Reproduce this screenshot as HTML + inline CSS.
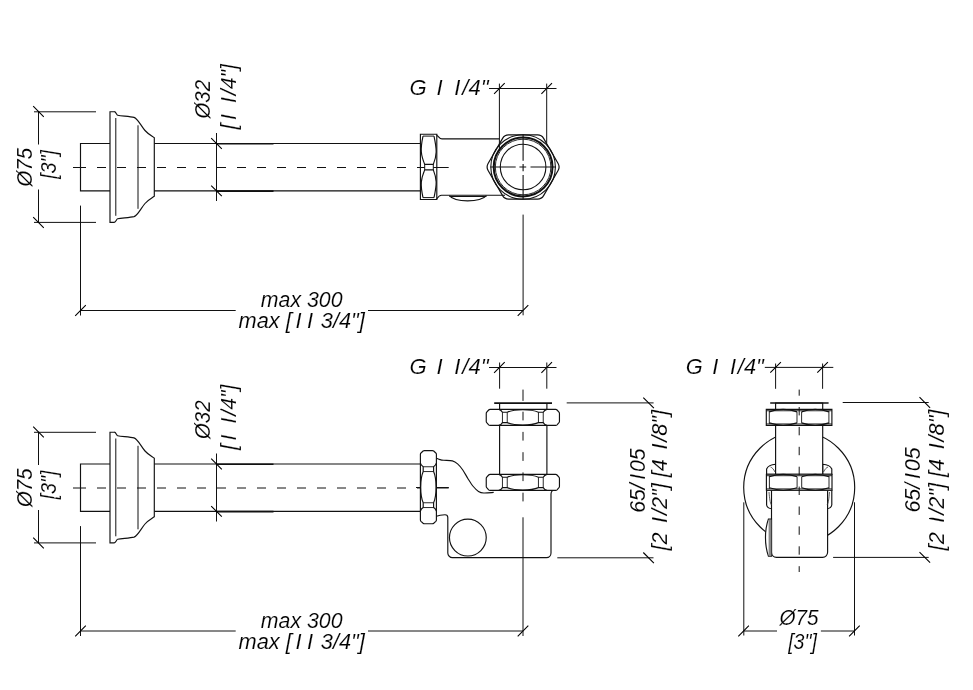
<!DOCTYPE html>
<html><head><meta charset="utf-8">
<style>
html,body{margin:0;padding:0;background:#fff;}
svg{display:block;will-change:transform;}
text{font-family:"Liberation Sans",sans-serif;font-style:italic;fill:#000;font-size:21.5px;stroke:#fff;stroke-width:0.12px;paint-order:fill stroke;}
</style></head>
<body>
<svg width="973" height="690" viewBox="0 0 973 690">
<rect width="973" height="690" fill="#fff"/>
<defs>
<g id="nutside" fill="#fff" stroke="#111" stroke-width="1.15">
<path d="M-32.8,-8H32.8Q33.6,-8 34.2,-7.4L36.1,-5.3Q36.6,-4.7 36.6,-4V4Q36.6,4.7 36.1,5.3L34.2,7.4Q33.6,8 32.8,8H-32.8Q-33.6,8 -34.2,7.4L-36.1,5.3Q-36.6,4.7 -36.6,4V-4Q-36.6,-4.7 -36.1,-5.3L-34.2,-7.4Q-33.6,-8 -32.8,-8Z"/>
<path fill="none" stroke-width="0.9" d="M-20.4,-5.2V5.2M-15.6,-5.2V5.2M15.6,-5.2V5.2M20.4,-5.2V5.2"/>
<path fill="none" d="M-24,-8C-22,-7.5 -21,-6.2 -20.4,-5.2H-15.6C-8,-8.5 8,-8.5 15.6,-5.2H20.4C21,-6.2 22,-7.5 24,-8"/>
<path fill="none" d="M-24,8C-22,7.5 -21,6.2 -20.4,5.2H-15.6C-8,8.5 8,8.5 15.6,5.2H20.4C21,6.2 22,7.5 24,8"/>
</g>
<g id="nutfront" fill="#fff" stroke="#111" stroke-width="1.15">
<path d="M-32.8,-8H32.8V8H-32.8Z"/>
<path fill="none" stroke-width="0.9" d="M-29.8,-6.5V6.5M29.8,-6.5V6.5M-2.1,-5.5V5.5M2.5,-5.5V5.5M-32.8,-6.6H32.8M-32.8,6.6H32.8"/>
<path fill="none" d="M-29.8,-5.5C-20,-9 -12,-9 -2.1,-5.5M2.5,-5.5C12,-9 20,-9 29.8,-5.5M-29.8,5.5C-20,9 -12,9 -2.1,5.5M2.5,5.5C12,9 20,9 29.8,5.5"/>
</g>
<g id="leftpart">
<path d="M34,111.8H96M34,222.4H96" stroke="#111" stroke-width="1" fill="none" />
<path d="M38.5,111.5V144.5M38.5,189.5V222.5" stroke="#111" stroke-width="1" fill="none" />
<path d="M33.2,106.2L43.8,116.8M33.2,217.2L43.8,227.8" stroke="#000" stroke-width="1.1" fill="none" />
<text transform="translate(32.3,186.5) rotate(-90)" textLength="38.5" lengthAdjust="spacingAndGlyphs">Ø75</text>
<text transform="translate(56,179) rotate(-90)" textLength="29" lengthAdjust="spacingAndGlyphs">[3&quot;]</text>
<path d="M110,111.7H114.2C116,111.5 116.5,115 117.6,115.2C122,116 130,116.4 134,117.4C138,118.8 141,126 145,130.5C148,134 152,136 154.3,137.7V196.3C152,198 148,200 145,203.5C141,208 138,215.2 134,216.6C130,217.6 122,218 117.6,218.8C116.5,219 116,222.4 114.2,222.4H110Z" stroke="#111" stroke-width="1.15" fill="none" />
<path d="M115.8,118V215.8M138,125.3V208.8" stroke="#111" stroke-width="1" fill="none" />
<path d="M110,143.5H80.5V190.9H110" stroke="#111" stroke-width="1.15" fill="none" />
<path d="M154.3,143.5H420.4M154.3,190.9H420.4" stroke="#111" stroke-width="1.15" fill="none" />
<path d="M73,167.5H86M97.0,167.5H106.0M117.0,167.5H126.0M137.0,167.5H146.0M157.0,167.5H166.0M177.0,167.5H186.0M197.0,167.5H206.0M217.0,167.5H226.0M237.0,167.5H246.0M257.0,167.5H266.0M277.0,167.5H286.0M297.0,167.5H306.0M317.0,167.5H326.0M337.0,167.5H346.0M357.0,167.5H366.0M377.0,167.5H386.0M397.0,167.5H406.0M417.0,167.5H424.7M433.3,167.5H448.7" stroke="#111" stroke-width="1" fill="none" />
<path d="M216.5,133V201" stroke="#111" stroke-width="1" fill="none" />
<path d="M216.5,143.8H273.5M216.5,191.1H273.5" stroke="#111" stroke-width="1.6" fill="none" />
<path d="M211.2,138.2L221.8,148.8M211.2,185.6L221.8,196.2" stroke="#000" stroke-width="1.1" fill="none" />
<text transform="translate(209.8,118.5) rotate(-90)" textLength="38.5" lengthAdjust="spacingAndGlyphs">Ø32</text>
<text transform="translate(235.5,129.5) rotate(-90)" textLength="65.5" lengthAdjust="spacingAndGlyphs">[ I   I /4&quot;]</text>
<path d="M80.5,205.6V315.5" stroke="#111" stroke-width="1" fill="none" />
<path d="M80.5,310.5H235.7M368,310.5H523" stroke="#111" stroke-width="1" fill="none" />
<path d="M75.2,315.8L85.8,305.2M517.7,315.8L528.3,305.2" stroke="#000" stroke-width="1.1" fill="none" />
<text x="260.8" y="307.4" textLength="81.7" lengthAdjust="spacingAndGlyphs">max 300</text>
<text x="238.5" y="328.2" textLength="126.4" lengthAdjust="spacingAndGlyphs">max [ I  I  3/4&quot;]</text>
</g>
<g id="gdim">
<path d="M489,88.5H556.5" stroke="#111" stroke-width="1" fill="none" />
<path d="M494.1,93.8L504.7,83.2M541.4,93.8L552.0,83.2" stroke="#000" stroke-width="1.1" fill="none" />
<text x="409.5" y="95.2" textLength="79" lengthAdjust="spacingAndGlyphs">G  I   I /4&quot;</text>
</g>
</defs>
<use href="#leftpart"/>
<use href="#leftpart" transform="translate(0,320.5)"/>
<path d="M420.4,134.2H436.8V199.5H420.4Z" stroke="#111" stroke-width="1.15" fill="none" />
<path d="M423,136.1H434M423,197.6H434M424.7,164.4V169.9M433.3,164.4V169.9" stroke="#111" stroke-width="1" fill="none" />
<path d="M423,136.1C420,150 421,155 424.7,164.4H433.3C437,155 437,150 434,136.1" stroke="#111" stroke-width="1.15" fill="none" />
<path d="M423,197.6C420,184 421,179 424.7,169.9H433.3C437,179 437,184 434,197.6" stroke="#111" stroke-width="1.15" fill="none" />
<path d="M436.8,135C438.5,137 439.5,138.8 442,138.8H499.4" stroke="#111" stroke-width="1.15" fill="none" />
<path d="M436.8,199C438,197 439,195.2 441.5,195.2H505" stroke="#111" stroke-width="1.15" fill="none" />
<path d="M449.3,196.5H486.5M449.3,195.6C455,202.6 480,202.6 486.5,195.6" stroke="#111" stroke-width="1.15" fill="none" />
<path d="M558.10,163.54Q560.10,167.00 558.10,170.46L543.60,195.58Q541.60,199.04 537.60,199.04L508.60,199.04Q504.60,199.04 502.60,195.58L488.10,170.46Q486.10,167.00 488.10,163.54L502.60,138.42Q504.60,134.96 508.60,134.96L537.60,134.96Q541.60,134.96 543.60,138.42Z" stroke="#111" stroke-width="1.2" fill="none" />
<circle cx="523.1" cy="167" r="32.3" stroke="#111" stroke-width="1.1" fill="none"/>
<circle cx="523.1" cy="167" r="29.4" stroke="#111" stroke-width="2" fill="none"/>
<circle cx="523.1" cy="167" r="27.8" stroke="#111" stroke-width="0.9" fill="none"/>
<circle cx="523.1" cy="167" r="22.8" stroke="#111" stroke-width="1.1" fill="none"/>
<path d="M490.5,167H515.7M519.4,167H526.2M530.5,167H555.7M523.1,134.8V160.7M523.1,164V171.2M523.1,174.9V199" stroke="#111" stroke-width="1.1" fill="none" />
<use href="#gdim"/>
<path d="M499.4,83.6V151M546.7,83.6V143" stroke="#111" stroke-width="1" fill="none" />
<path d="M523.1,214.6V315.3" stroke="#111" stroke-width="1" fill="none" />
<use href="#gdim" transform="translate(0,279)"/>
<path d="M499.6,362.5V388.7M546.8,362.5V388.7" stroke="#111" stroke-width="1" fill="none" />
<path d="M494.2,403.1H552" stroke="#111" stroke-width="1.7" fill="none" />
<path d="M499.6,403V474.4M546.9,403V474.4" stroke="#111" stroke-width="1.15" fill="none" />
<path d="M436.50,458.20C437.08,458.43 438.80,459.25 440.00,459.60C441.20,459.95 441.63,460.08 443.70,460.30C445.77,460.52 450.08,460.30 452.40,460.90C454.72,461.50 455.87,462.38 457.60,463.90C459.33,465.42 461.07,467.53 462.80,470.00C464.53,472.47 466.25,475.95 468.00,478.70C469.75,481.45 471.55,484.38 473.30,486.50C475.05,488.62 476.77,490.32 478.50,491.40C480.23,492.48 481.17,492.83 483.70,493.00C486.23,493.17 492.03,492.50 493.70,492.40" stroke="#111" stroke-width="1.15" fill="none" />
<path d="M552.4,490.6C551.2,491.8 551,492.8 551,494V553C551,555.5 549,557.6 546.5,557.6H452.4C450,557.6 447.8,555.5 447.8,553V517.5C447.8,516.5 447,514.7 445,514.7C442,514.7 438,515.5 436.4,516.3" stroke="#111" stroke-width="1.15" fill="none" />
<circle cx="467.85" cy="537.6" r="18.4" stroke="#111" stroke-width="1.15" fill="none"/>
<use href="#nutside" transform="translate(522.85,417.4)"/>
<use href="#nutside" transform="translate(522.85,482.4)"/>
<use href="#nutside" transform="translate(428.4,487.15) rotate(90)"/>
<path d="M416,487.5H420.4M436.4,487.5H448.8" stroke="#111" stroke-width="1" fill="none" />
<path d="M523,389.6V400.9M523,411.7V420.4M523,431.9V440.6M523,452.2V460.9M523,472.4V481.1M523,492.7V501.4M523,517.3V636" stroke="#111" stroke-width="1" fill="none" />
<path d="M566.7,402.9H653.6M557.3,557.8H653.5" stroke="#111" stroke-width="1" fill="none" />
<path d="M643.3,397.6L653.9,408.2M643.3,552.5L653.9,563.1" stroke="#000" stroke-width="1.1" fill="none" />
<text transform="translate(644.5,512.8) rotate(-90)" textLength="64.5" lengthAdjust="spacingAndGlyphs">65/ I 05</text>
<text transform="translate(667,550.6) rotate(-90)" textLength="140.6" lengthAdjust="spacingAndGlyphs">[2  I /2&quot;] [4  I /8&quot;]</text>
<path d="M764.8,367.4H833.3" stroke="#111" stroke-width="1" fill="none" />
<path d="M775.6,363.5V388.8M822.6,363.5V388.8" stroke="#111" stroke-width="1" fill="none" />
<path d="M770.3,372.7L780.9,362.1M817.3,372.7L827.9,362.1" stroke="#000" stroke-width="1.1" fill="none" />
<text x="685.7" y="374" textLength="78.1" lengthAdjust="spacingAndGlyphs">G  I   I /4&quot;</text>
<circle cx="799.2" cy="487.5" r="55.5" stroke="#111" stroke-width="1.15" fill="none"/>
<g stroke="#111" stroke-width="1.15" fill="#fff">
<path d="M766.6,474.4V469C768,466 771,464.5 775.6,464.3V474.4Z"/>
<path d="M831.8,474.4V469C830.4,466 827.4,464.5 822.7,464.3V474.4Z"/>
<path d="M766.6,490.2V505C767,507 769,508.5 771.7,508.7V490.2Z"/>
<path d="M831.8,490.2V505C831.4,507 829.4,508.5 826.8,508.7V490.2Z"/>
<path d="M775.6,403V474.4H822.7V403Z"/>
<path d="M771.5,490.2V552.3C771.5,555 773.5,557.3 776.5,557.3H822.6C825.5,557.3 827.6,555 827.6,552.3V490.2Z"/>
<path d="M771.5,519.1H768.4C764.5,530 764.5,545 768.4,556.1H771.5Z"/>
<rect x="768.6" y="519.6" width="2.8" height="36.2" fill="#888" stroke="none"/>
</g>
<path d="M770.2,403H828.6" stroke="#111" stroke-width="1.7" fill="none" />
<path d="M770.5,467C772,467.5 773.5,469 775,472M828,467C826.5,467.5 825,469 823.5,472M769,492C769.5,498 770,503 771.5,505M829.5,492C829,498 828.5,503 827,505" stroke="#333" stroke-width="0.8" fill="none" />
<use href="#nutfront" transform="translate(799.1,417.35)"/>
<use href="#nutfront" transform="translate(799.2,482.3)"/>
<path d="M799.2,389.6V395.7M799.2,407.0V415.4M799.2,426.9V435.3M799.2,446.8V455.2M799.2,466.7V475.1M799.2,486.6V495.0M799.2,506.5V514.9M799.2,526.4V534.8M799.2,546.3V554.7M799.2,566.2V572.0" stroke="#111" stroke-width="1" fill="none" />
<path d="M743.8,502.3V635.5M854.5,502.3V635.5" stroke="#111" stroke-width="1" fill="none" />
<path d="M743.6,631H777M820.9,631H854.4" stroke="#111" stroke-width="1" fill="none" />
<path d="M738.3,636.3L748.9,625.7M849.1,636.3L859.7,625.7" stroke="#000" stroke-width="1.1" fill="none" />
<text x="779.4" y="624.6" textLength="39.1" lengthAdjust="spacingAndGlyphs">Ø75</text>
<text x="788.2" y="648.5" textLength="28.7" lengthAdjust="spacingAndGlyphs">[3&quot;]</text>
<path d="M842.7,402.5H928.7M833.1,557.4H928.7" stroke="#111" stroke-width="1" fill="none" />
<path d="M919.5,397.2L930.1,407.8M919.5,552.1L930.1,562.7" stroke="#000" stroke-width="1.1" fill="none" />
<text transform="translate(919.6,512.6) rotate(-90)" textLength="65.2" lengthAdjust="spacingAndGlyphs">65/ I 05</text>
<text transform="translate(944.2,550.4) rotate(-90)" textLength="140.8" lengthAdjust="spacingAndGlyphs">[2  I /2&quot;] [4  I /8&quot;]</text>
</svg>
</body></html>
